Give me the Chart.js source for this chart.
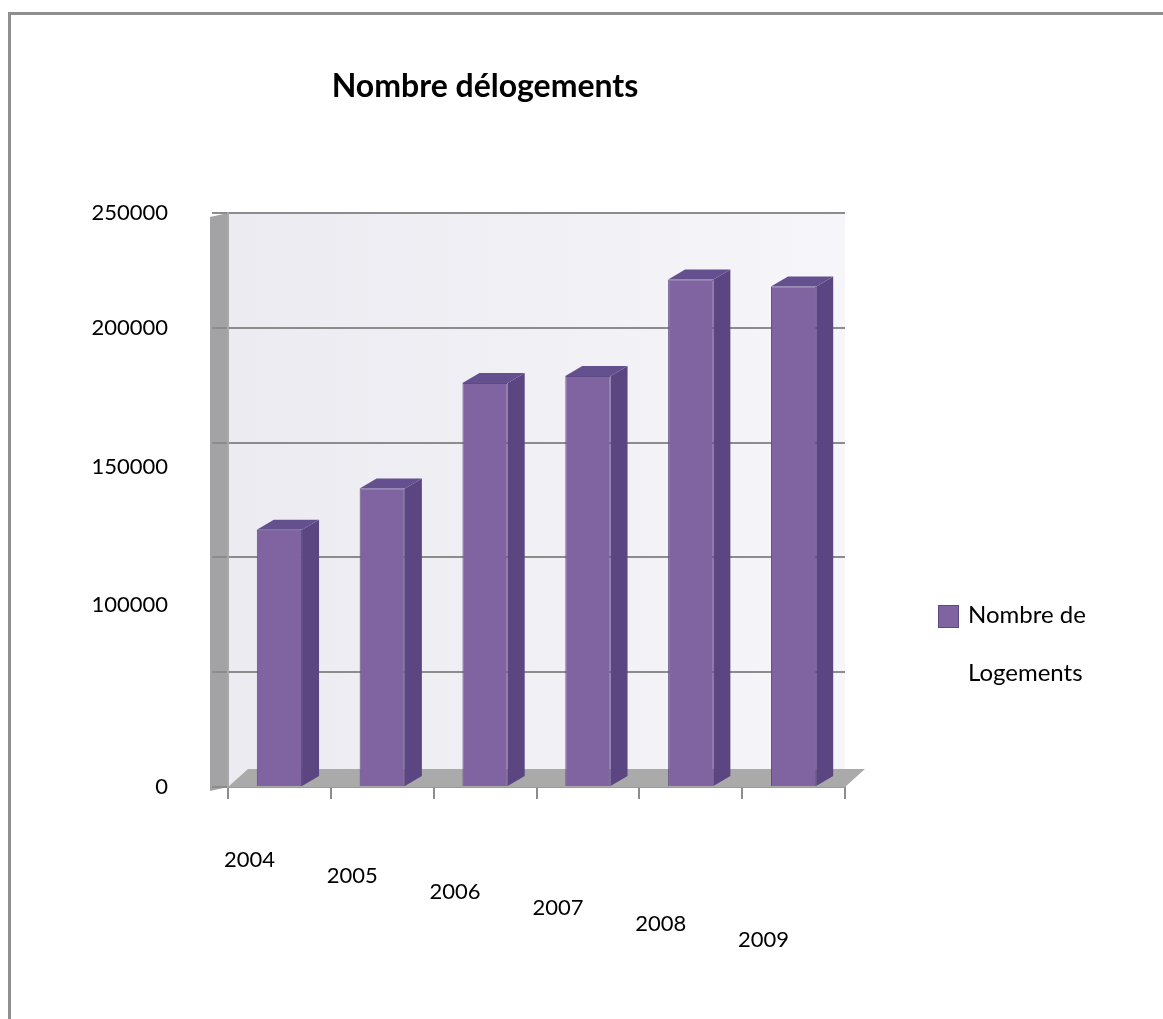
<!DOCTYPE html>
<html>
<head>
<meta charset="utf-8">
<script src="https://cdn.jsdelivr.net/npm/chart.js@4"></script>
<style>
  body { margin: 0; background: #fff; }
  #wrap { position: relative; width: 1163px; height: 1019px; overflow: hidden; }
  #frame { position: absolute; left: 8px; top: 12px; width: 1200px; height: 1100px; border: 3px solid #8f8f8f; box-sizing: border-box; }
  #titre { position: absolute; left: 0; width: 970px; top: 65px; text-align: center; font: bold 32px Lato, sans-serif; color: #000; }
  .leg { position: absolute; left: 968px; font: 24px/29px Lato, sans-serif; color: #000; }
  #carre { position: absolute; left: 938px; top: 605px; width: 19px; height: 21px; background: #8064A2; border: 1px solid #5E4A82; }
  canvas { position: absolute; left: 0; top: 0; }
</style>
</head>
<body>
<div id="wrap">
  <div id="frame"></div>
  <canvas id="graphe" width="1163" height="1019"></canvas>
  <div id="titre">Nombre délogements</div>
  <div id="carre"></div>
  <div class="leg" style="top:599px">Nombre de</div>
  <div class="leg" style="top:657px">Logements</div>
</div>
<script>
const annees = ['2004', '2005', '2006', '2007', '2008', '2009'];
const logements = [112000, 130000, 176000, 179000, 221000, 218000];
const graduations = [0, 100000, 150000, 200000, 250000];

// faux relief : face de côté et dessus des barres, sol et mur gauche
const relief = {
  id: 'relief',
  beforeDraw(chart) {
    const { ctx, chartArea: a } = chart;
    ctx.save();
    const g = ctx.createLinearGradient(a.left, 0, a.right, 0);
    g.addColorStop(0, '#ecebf1');
    g.addColorStop(1, '#f6f5f9');
    ctx.fillStyle = g;
    ctx.fillRect(a.left, a.top, a.right - a.left, a.bottom - a.top);
    ctx.fillStyle = '#a3a3a6';
    ctx.beginPath();
    ctx.moveTo(a.left - 18, a.top + 4);
    ctx.lineTo(a.left, a.top);
    ctx.lineTo(a.left, a.bottom);
    ctx.lineTo(a.left - 18, a.bottom + 4);
    ctx.closePath();
    ctx.fill();
    ctx.restore();
  },
  beforeDatasetsDraw(chart) {
    const { ctx, chartArea: a } = chart;
    ctx.save();
    ctx.fillStyle = '#aaaaab';
    ctx.beginPath();
    ctx.moveTo(a.left, a.bottom);
    ctx.lineTo(a.left + 20, a.bottom - 18);
    ctx.lineTo(a.right + 20, a.bottom - 18);
    ctx.lineTo(a.right, a.bottom);
    ctx.closePath();
    ctx.fill();
    ctx.restore();
  },
  afterDatasetsDraw(chart) {
    const { ctx } = chart;
    const dx = 17, dy = 10;
    ctx.save();
    chart.getDatasetMeta(0).data.forEach(b => {
      const l = b.x - b.width / 2, r = b.x + b.width / 2;
      ctx.fillStyle = '#5b4682';
      ctx.beginPath();
      ctx.moveTo(r, b.y);
      ctx.lineTo(r + dx, b.y - dy);
      ctx.lineTo(r + dx, b.base - dy);
      ctx.lineTo(r, b.base);
      ctx.closePath();
      ctx.fill();
      ctx.fillStyle = '#65508f';
      ctx.beginPath();
      ctx.moveTo(l, b.y);
      ctx.lineTo(l + dx, b.y - dy);
      ctx.lineTo(r + dx, b.y - dy);
      ctx.lineTo(r, b.y);
      ctx.closePath();
      ctx.fill();
    });
    ctx.restore();
  }
};

// les étiquettes du milieu descendent un peu (effet de perspective de l'original)
const decalage = { 150000: 2, 100000: 4 };

new Chart(document.getElementById('graphe'), {
  type: 'bar',
  data: {
    labels: annees,
    datasets: [{
      label: 'Nombre de Logements',
      data: logements,
      backgroundColor: '#8064A2',
      borderColor: '#5E4A82',
      borderWidth: 1,
      barPercentage: 0.44,
      categoryPercentage: 1
    }]
  },
  options: {
    responsive: false,
    animation: false,
    layout: { padding: { left: 0, right: 318, top: 213, bottom: 0 } },
    plugins: {
      legend: { display: false },
      title: { display: false },
      tooltip: { enabled: false }
    },
    scales: {
      x: {
        afterFit(s) { s.height = 232; },
        grid: { drawOnChartArea: false, color: '#8c8c8c', lineWidth: 2, tickLength: 12 },
        border: { color: '#9a9a9a', width: 2 },
        ticks: {
          autoSkip: false,
          maxRotation: 0,
          padding: 53,
          labelOffset: -30,
          color: '#000',
          font: { family: 'Lato', size: 22, lineHeight: '16px' },
          callback(v, i) { return new Array(i).fill('').concat(annees[i]); }
        }
      },
      y: {
        min: 0,
        max: 250000,
        afterFit(s) { s.width = 228; },
        afterBuildTicks(s) { s.ticks = [0, 50000, 100000, 150000, 200000, 250000].map(v => ({ value: v })); },
        grid: { color: '#8c8c8c', lineWidth: 2, tickLength: 16 },
        border: { color: '#a8a8a8', width: 2 },
        ticks: {
          autoSkip: false,
          padding: 44,
          color: '#000',
          font: { family: 'Lato', size: 22, lineHeight: '24px' },
          callback(v) {
            if (!graduations.includes(v)) return '';
            return new Array(decalage[v] || 0).fill('').concat(String(v));
          }
        }
      }
    }
  },
  plugins: [relief]
});
</script>
</body>
</html>
